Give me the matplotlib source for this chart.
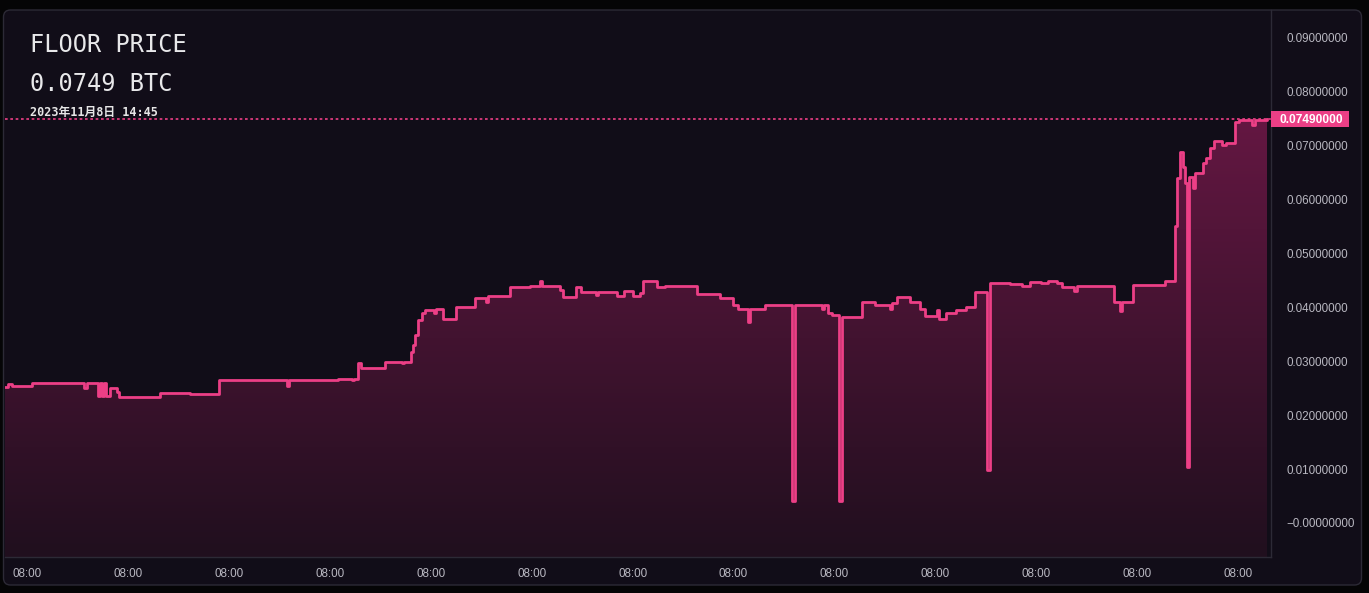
import numpy as np
import pandas as pd
import matplotlib
matplotlib.use('Agg')
import matplotlib.pyplot as plt
import matplotlib.dates as mdates
import matplotlib.transforms as mtransforms
from matplotlib.patches import FancyBboxPatch, Rectangle

# floor price (BTC), step data; hours relative to 2023-10-27 08:00
t0 = pd.Timestamp('2023-10-27 08:00')
hours = [-5.23, -4.52, -3.57, 1.19, 13.55, 14.27, 17.0, 17.36, 17.84, 18.31, 18.79,
         19.74, 21.40, 21.88, 31.63, 38.76, 45.66, 61.83, 62.30, 73.96, 77.29, 77.76,
         78.71, 79.43, 85.13, 89.18, 89.65, 91.32, 91.79, 92.27, 92.98, 93.93, 94.65,
         96.79, 97.26, 98.93, 102.02, 106.53, 109.15, 109.63, 114.86, 119.61, 121.99,
         122.47, 126.75, 127.46, 130.55, 131.74, 135.31, 135.78, 140.30, 141.97, 144.11,
         145.77, 146.49, 149.82, 151.72, 159.33, 164.80, 167.89, 169.08, 171.46, 171.94,
         175.50, 181.92, 182.64, 189.06, 189.53, 190.48, 191.43, 193.10, 193.81, 198.57,
         201.66, 205.22, 205.70, 206.89, 209.98, 212.36, 213.54, 216.40, 216.87, 218.54,
         220.92, 223.29, 225.43, 228.29, 229.00, 233.76, 236.61, 238.51, 241.13, 242.79,
         244.93, 246.12, 248.98, 249.69, 258.49, 259.92, 260.39, 263.01, 270.62, 273.0,
         273.47, 274.19, 274.90, 275.38, 275.73, 276.21, 277.28, 277.76, 279.66, 280.38,
         281.33, 282.28, 284.18, 285.13, 287.27, 288.22, 291.31, 292.03, 294.75]
price = [0.0253, 0.0257, 0.0255, 0.0259, 0.0250, 0.0259, 0.0236, 0.0259, 0.0236, 0.0259, 0.0236,
         0.0250, 0.0243, 0.02345, 0.0241, 0.0239, 0.0265, 0.0254, 0.0265, 0.0268, 0.0265, 0.0268,
         0.0297, 0.0287, 0.0299, 0.0296, 0.0299, 0.0318, 0.0330, 0.0349, 0.0377, 0.0389, 0.0396,
         0.0390, 0.0397, 0.0378, 0.0400, 0.0417, 0.0410, 0.0421, 0.0438, 0.0440, 0.0449,
         0.0440, 0.0432, 0.0420, 0.0437, 0.0429, 0.0423, 0.0429, 0.0421, 0.0430, 0.0421,
         0.0426, 0.0449, 0.0438, 0.0440, 0.0425, 0.0417, 0.0404, 0.0398, 0.0373, 0.0398,
         0.0404, 0.0041, 0.0404, 0.0398, 0.0404, 0.0390, 0.0386, 0.0041, 0.0383, 0.0410,
         0.0404, 0.0398, 0.0409, 0.0419, 0.0410, 0.0397, 0.0384, 0.0396, 0.0378, 0.0390,
         0.0396, 0.0400, 0.0429, 0.0098, 0.0446, 0.0443, 0.0440, 0.0448, 0.0445, 0.0449,
         0.0445, 0.0438, 0.0430, 0.0440, 0.0410, 0.0393, 0.0410, 0.0441, 0.0449, 0.0552,
         0.0640, 0.0688, 0.0661, 0.0631, 0.0104, 0.0642, 0.0621, 0.0650, 0.0668, 0.0677,
         0.0695, 0.0709, 0.0701, 0.0705, 0.0745, 0.0748, 0.0738, 0.0747, 0.0749]
last_price = 0.0749
y_ticks = [0.0, 0.01, 0.02, 0.03, 0.04, 0.05, 0.06, 0.07, 0.08, 0.09]
y_labels = ['\u22120.00000000', '0.01000000', '0.02000000', '0.03000000', '0.04000000',
            '0.05000000', '0.06000000', '0.07000000', '0.08000000', '0.09000000']

times = t0 + pd.to_timedelta(hours, unit='h')

PINK = '#ec3f86'
BG = '#110d18'
EDGE = '#2c2a36'
W, H = 1369, 593

fig = plt.figure(figsize=(W / 100, H / 100), dpi=100, facecolor='#050506')

# background panel
bg = fig.add_axes([0, 0, 1, 1])
bg.set_xlim(0, W)
bg.set_ylim(H, 0)
bg.axis('off')
bg.add_patch(FancyBboxPatch((3.5, 10), 1358, 575, boxstyle='round,pad=0,rounding_size=7',
                            facecolor=BG, edgecolor=EDGE, lw=1))

ax = fig.add_axes([5 / W, 1 - 557 / H, (1271 - 5) / W, (557 - 10) / H])
ax.set_facecolor('none')

ymin, ymax = -0.00631, 0.09519
xmin = t0 + pd.Timedelta(hours=-5.23)
xmax = t0 + pd.Timedelta(hours=295.8)

# gradient fill under the line
poly = ax.fill_between(times, price, ymin, step='post', facecolor='none', edgecolor='none')
top_c = np.array([100, 23, 66]) / 255
bot_c = np.array([32, 15, 30]) / 255
f = np.linspace(0, 1, 256)[:, None]
grad = (top_c * (1 - f) + bot_c * f)[:, None, :]
im = ax.imshow(grad, extent=[mdates.date2num(xmin), mdates.date2num(xmax), ymin, last_price],
               aspect='auto', origin='upper', zorder=1)
im.set_clip_path(poly.get_paths()[0], transform=poly.get_transform())

ax.plot(times, price, drawstyle='steps-post', color=PINK, lw=2.0, zorder=3,
        solid_joinstyle='round')
ax.axhline(last_price, color=PINK, lw=1.2, linestyle=(0, (1.6, 1.6)), zorder=2)

ax.set_xlim(xmin, xmax)
ax.set_ylim(ymin, ymax)

ax.yaxis.tick_right()
ax.set_yticks(y_ticks)
ax.set_yticklabels(y_labels)
ax.tick_params(axis='y', length=0, pad=11, labelsize=8.4, labelcolor='#b8b7c0')
for t in ax.get_yticklabels():
    t.set_fontfamily('Liberation Sans')

ax.xaxis.set_major_locator(mdates.HourLocator(byhour=8))
ax.xaxis.set_major_formatter(mdates.DateFormatter('%H:%M'))
ax.tick_params(axis='x', length=0, pad=8, labelsize=8.4, labelcolor='#b8b7c0')
for t in ax.get_xticklabels():
    t.set_fontfamily(['Liberation Sans Narrow', 'Liberation Sans'])

for s in ['left', 'top']:
    ax.spines[s].set_visible(False)
for s in ['right', 'bottom']:
    ax.spines[s].set_color(EDGE)
    ax.spines[s].set_linewidth(1)

# last price label on the axis
blend = mtransforms.blended_transform_factory(ax.transAxes, ax.transData)
ax.add_patch(Rectangle((1.0, last_price - 0.00149), 0.0616, 0.00298, transform=blend,
                       facecolor=PINK, edgecolor='none', clip_on=False, zorder=5))
ax.annotate('0.07490000', xy=(1, last_price), xycoords=('axes fraction', 'data'),
            xytext=(9, -0.5), textcoords='offset pixels', ha='left', va='center',
            fontsize=8.6, fontweight='bold', color='white', family='Liberation Sans',
            annotation_clip=False, zorder=6)

fig.text(30 / W, 1 - 45 / H, 'FLOOR PRICE', fontsize=17, color='#e8e8ea',
         family='DejaVu Sans Mono', va='center', ha='left')
fig.text(30 / W, 1 - 84 / H, '0.0749 BTC', fontsize=17, color='#e8e8ea',
         family='DejaVu Sans Mono', va='center', ha='left')
fig.text(30 / W, 1 - 112.5 / H, '2023年11月8日 14:45', fontsize=8.5, color='#e6e6e6',
         family=['DejaVu Sans Mono', 'Noto Sans CJK JP'], fontweight='bold',
         va='center', ha='left')

fig.savefig('out.png', dpi=100, facecolor=fig.get_facecolor())
